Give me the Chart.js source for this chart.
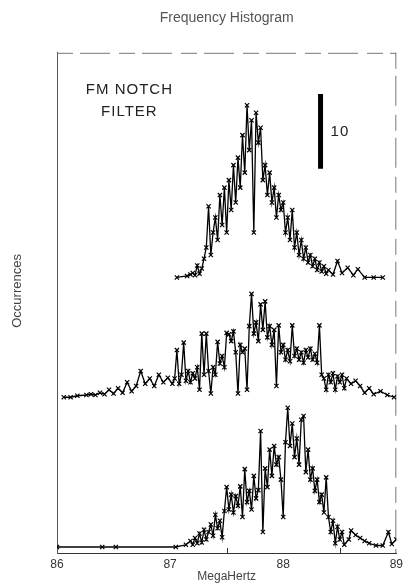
<!DOCTYPE html>
<html>
<head>
<meta charset="utf-8">
<title>Frequency Histogram</title>
<script src="https://cdn.jsdelivr.net/npm/chart.js@4.4.1/dist/chart.umd.min.js"></script>
<style>
  html, body { margin: 0; padding: 0; background: #fff; }
  #wrap { width: 407px; height: 583px; }
</style>
</head>
<body>
<div id="wrap"><canvas id="histChart" width="407" height="583"></canvas></div>
<script>
// three sweeps, each drawn on its own baseline (counts)
const topMHz = [87.06, 87.15, 87.18, 87.20, 87.22, 87.24, 87.26, 87.28,
  87.30, 87.32, 87.34, 87.36, 87.38, 87.40, 87.42, 87.44, 87.46, 87.48,
  87.50, 87.52, 87.54, 87.56, 87.58, 87.60, 87.62, 87.64, 87.66, 87.68,
  87.70, 87.72, 87.74, 87.76, 87.78, 87.80, 87.82, 87.84, 87.86, 87.88,
  87.90, 87.92, 87.94, 87.96, 87.98, 88.00, 88.02, 88.04, 88.06, 88.08,
  88.10, 88.12, 88.14, 88.16, 88.18, 88.20, 88.22, 88.24, 88.26, 88.28,
  88.30, 88.32, 88.34, 88.36, 88.38, 88.40,
  88.44, 88.48, 88.52, 88.57, 88.62, 88.66, 88.72, 88.80, 88.88];
const topCounts = [0, 0.2, 0.4, 0.6, 0.3, 1.6, 0.5, 1.2,
  2.5, 4, 9.5, 3, 6, 8, 5, 11, 7, 12,
  6, 13, 9, 15, 10, 16, 12, 19, 14, 23,
  17, 21, 6, 22, 18, 20, 13, 15, 11, 14,
  10, 12, 8, 11, 9, 10, 6, 8, 5, 9,
  4, 6, 3, 5, 2.5, 4, 2, 3, 1.5, 2.5,
  1, 2, 0.8, 1.5, 0.5, 1,
  0.4, 2.2, 0.6, 1.3, 0.3, 1.1, 0, 0, 0];

const midMHz = [86.06, 86.12, 86.18, 86.26, 86.30, 86.34, 86.38, 86.42,
  86.46, 86.50, 86.54, 86.58, 86.62, 86.66, 86.70, 86.74, 86.78, 86.82,
  86.86, 86.90, 86.94, 86.98, 87.02,
  87.04, 87.06, 87.08, 87.10, 87.12, 87.14, 87.16, 87.18, 87.20, 87.22,
  87.24, 87.26, 87.28, 87.30, 87.32, 87.34, 87.36, 87.38, 87.40, 87.42,
  87.44, 87.46, 87.48, 87.50, 87.52, 87.54, 87.56, 87.58, 87.60, 87.62,
  87.64, 87.66, 87.68, 87.70, 87.72, 87.74, 87.76, 87.78, 87.80, 87.82,
  87.84, 87.86, 87.88, 87.90, 87.92, 87.94, 87.96, 87.98, 88.00, 88.02,
  88.04, 88.06, 88.08, 88.10, 88.12, 88.14, 88.16, 88.18, 88.20, 88.22,
  88.24, 88.26, 88.28, 88.30, 88.32, 88.34, 88.36, 88.38, 88.40, 88.42,
  88.44, 88.46, 88.48, 88.50, 88.52, 88.54, 88.56,
  88.60, 88.64, 88.68, 88.72, 88.76, 88.80, 88.86, 88.92, 88.98];
const midCounts = [0, 0, 0.2, 0.3, 0.4, 0.3, 0.6, 0.4,
  1.0, 0.5, 1.2, 0.6, 2.0, 0.8, 1.5, 3.5, 1.8, 2.5,
  1.5, 3.0, 2.0, 2.6, 1.8,
  2.5, 6.3, 1.8, 3.0, 7.3, 2.2, 3.5, 2.0, 3.2, 2.5,
  4.0, 1.0, 8.5, 3.0, 8.5, 3.5, 0.5, 4.0, 3.0, 7.4,
  4.5, 5.5, 4.0, 8.6, 8.4, 7.5, 8.8, 6.0, 0.5, 7.0,
  6.0, 6.5, 1.0, 9.5, 13.8, 8.5, 10.0, 7.5, 12.4, 9.0,
  12.8, 8.0, 9.5, 7.0, 9.0, 1.5, 9.6, 6.0, 7.0, 5.0,
  6.3, 4.8, 9.6, 5.5, 6.5, 5.0, 6.0, 4.6, 6.3, 5.3,
  6.5, 5.0, 5.8, 4.6, 9.6, 3.0, 2.5, 1.0, 3.0, 2.0,
  3.2, 1.0, 2.8, 2.0, 3.0, 1.2, 2.5,
  1.8, 2.2, 1.5, 0.6, 1.2, 0.4, 0.8, 0.3, 0];

const lowMHz = [86.00, 86.40, 86.52, 87.05, 87.14, 87.18, 87.20, 87.22,
  87.24, 87.26, 87.28, 87.30, 87.32, 87.34,
  87.36, 87.38, 87.40, 87.42, 87.44, 87.46, 87.48, 87.50, 87.52, 87.54,
  87.56, 87.58, 87.60, 87.62, 87.64, 87.66, 87.68, 87.70, 87.72, 87.74,
  87.76, 87.78, 87.80, 87.82, 87.84, 87.86, 87.88, 87.90, 87.92, 87.94,
  87.96, 87.98, 88.00, 88.02, 88.04, 88.06, 88.08, 88.10, 88.12, 88.14,
  88.16, 88.18, 88.20, 88.22, 88.24, 88.26, 88.28, 88.30, 88.32, 88.34,
  88.36, 88.38, 88.40, 88.42, 88.44, 88.46, 88.48, 88.50, 88.52, 88.54,
  88.58, 88.60, 88.64, 88.68, 88.72, 88.76, 88.82, 88.88, 88.93, 88.96, 89.00];
const lowCounts = [0, 0, 0, 0, 0.3, 0.8, 0.3, 1.2,
  0.5, 1.8, 0.6, 2.3, 1.0, 2.0,
  3.0, 1.5, 4.3, 2.5, 3.5, 1.3, 4.8, 8.0, 5.0, 7.0,
  4.6, 6.8, 5.5, 8.1, 4.0, 10.4, 6.0, 7.5, 5.0, 9.5,
  6.5, 7.6, 15.5, 2.0, 10.5, 8.0, 13.0, 9.5, 13.5, 11.0,
  12.0, 9.0, 4.0, 14.0, 18.6, 13.5, 16.5, 12.0, 14.5, 11.0,
  17.0, 17.5, 10.0, 13.0, 9.0, 10.5, 7.5, 9.0, 6.0, 7.0,
  4.6, 9.3, 4.0, 2.0, 3.5, 0.5, 2.7, 1.0, 2.0, 0.3,
  1.0, 2.2, 1.6, 1.2, 0.8, 0.5, 0.2, 0.2, 2.0, 0.4, 1.0];

const xTicks = [86, 87, 88, 89];
const minorTicks = [87.5, 88.5];

// vertical offsets of each sweep, in counts
const TOP_BASE = 36.8;
const MID_BASE = 20.8;
const LOW_BASE = 0.8;

// 10-count reference bar
const BAR_MHZ = 88.33;
const BAR_FROM = 51.3;
const BAR_LEN = 10;

const Y_MAX = 66.8;

const FONT = "'Liberation Sans', Arial, sans-serif";

function shifted(xs, ys, base) {
  return xs.map((x, i) => ({ x: x, y: ys[i] + base }));
}

function sweep(points) {
  return {
    data: points,
    borderColor: "#000",
    borderWidth: 1.3,
    pointStyle: "crossRot",
    pointRadius: 3,
    pointBorderWidth: 1.2,
    pointBorderColor: "#000",
    pointBackgroundColor: "#000",
    tension: 0
  };
}

const frame = {
  id: "frame",
  beforeDatasetsDraw(chart) {
    const a = chart.chartArea;
    const ctx = chart.ctx;
    const x = chart.scales.x;
    ctx.save();
    ctx.strokeStyle = "#777";
    ctx.lineWidth = 1;
    ctx.setLineDash([16, 7, 30, 9]);
    ctx.beginPath();
    ctx.moveTo(a.left, a.top + 0.5);
    ctx.lineTo(a.right, a.top + 0.5);
    ctx.moveTo(a.right - 0.5, a.top);
    ctx.lineTo(a.right - 0.5, a.bottom);
    ctx.stroke();
    // short inward ticks at the half-MHz marks
    ctx.setLineDash([]);
    ctx.strokeStyle = "#333";
    ctx.beginPath();
    minorTicks.forEach(v => {
      const px = Math.round(x.getPixelForValue(v)) + 0.5;
      ctx.moveTo(px, a.bottom);
      ctx.lineTo(px, a.bottom - 5);
    });
    ctx.stroke();
    ctx.restore();
  },
  afterDraw(chart) {
    const ctx = chart.ctx;
    const x = chart.scales.x, y = chart.scales.y;
    ctx.save();
    ctx.fillStyle = "#222";
    ctx.font = "15px " + FONT;
    ctx.letterSpacing = "1px";
    ctx.textAlign = "center";
    ctx.textBaseline = "middle";
    const tx = x.getPixelForValue(86.64);
    ctx.fillText("FM NOTCH", tx, y.getPixelForValue(61.8));
    ctx.fillText("FILTER", tx, y.getPixelForValue(58.9));
    ctx.textAlign = "left";
    ctx.fillText("10", x.getPixelForValue(BAR_MHZ) + 10, y.getPixelForValue(BAR_FROM + BAR_LEN / 2));
    // y axis caption
    ctx.letterSpacing = "0px";
    ctx.fillStyle = "#444";
    ctx.font = "13px " + FONT;
    ctx.translate(17, y.getPixelForValue(35.0));
    ctx.rotate(-Math.PI / 2);
    ctx.textAlign = "center";
    ctx.fillText("Occurrences", 0, 0);
    ctx.restore();
  }
};

const chart = new Chart(document.getElementById("histChart"), {
  type: "line",
  data: {
    datasets: [
      sweep(shifted(topMHz, topCounts, TOP_BASE)),
      sweep(shifted(midMHz, midCounts, MID_BASE)),
      sweep(shifted(lowMHz, lowCounts, LOW_BASE)),
      {
        data: [{ x: BAR_MHZ, y: BAR_FROM }, { x: BAR_MHZ, y: BAR_FROM + BAR_LEN }],
        borderColor: "#000",
        borderWidth: 5,
        pointRadius: 0
      }
    ]
  },
  options: {
    responsive: false,
    animation: false,
    layout: { padding: { left: 0, right: 8, top: 0, bottom: 0 } },
    plugins: {
      legend: { display: false },
      tooltip: { enabled: false },
      title: {
        display: true,
        text: "Frequency Histogram",
        fullSize: false,
        color: "#555",
        font: { family: FONT, size: 14, weight: "normal" },
        padding: { top: 10, bottom: 26 }
      }
    },
    scales: {
      x: {
        type: "linear",
        min: 86,
        max: 89,
        afterBuildTicks(scale) { scale.ticks = xTicks.map(v => ({ value: v })); },
        afterFit(scale) { scale.height = 30; },
        grid: { display: false, drawTicks: false },
        border: { display: true, color: "#333", width: 1 },
        ticks: {
          color: "#333",
          padding: 4,
          maxRotation: 0,
          font: { family: FONT, size: 12 }
        },
        title: {
          display: true,
          text: "MegaHertz",
          color: "#444",
          padding: { top: 0, bottom: 0 },
          font: { family: FONT, size: 12, lineHeight: 1 }
        }
      },
      y: {
        type: "linear",
        min: 0,
        max: Y_MAX,
        afterFit(scale) { scale.width = 57; },
        grid: { display: false, drawTicks: false },
        border: { display: true, color: "#555", width: 1 },
        ticks: { display: false }
      }
    }
  },
  plugins: [frame]
});
</script>
</body>
</html>
